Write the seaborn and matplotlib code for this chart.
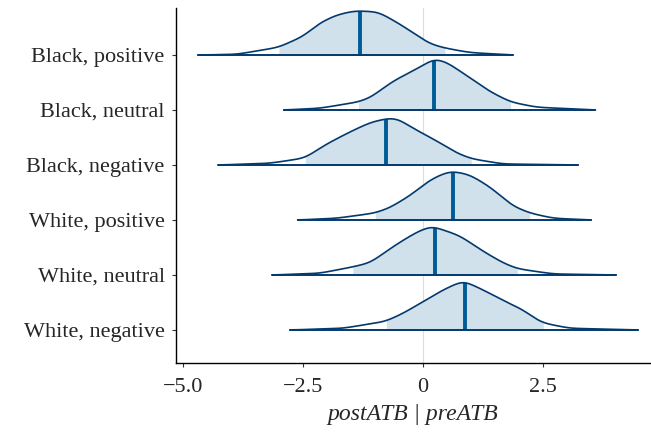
import numpy as np
import matplotlib
matplotlib.use("Agg")
import matplotlib.pyplot as plt
import seaborn as sns

# ------------------------------
# Posterior density outlines
# (x in data units, height in relative density units)
# ------------------------------
labels = ["Black, positive", "Black, neutral", "Black, negative",
          "White, positive", "White, neutral", "White, negative"]

bp_x = [-4.69, -3.88, -3.01, -2.49, -2.15, -1.80, -1.42, -0.93, -0.48, -0.13, 0.15, 0.46, 0.98, 1.88]
bp_h = [0, 2, 22, 54, 92, 115, 127, 124, 89, 57, 32, 20, 7, 0]

bn_x = [-2.90, -2.15, -1.35, -1.10, -0.62, -0.13, 0.24, 0.49, 0.98, 1.40, 1.83, 2.37, 3.60]
bn_h = [0, 5, 23, 35, 83, 118, 148, 138, 93, 53, 23, 8, 0]

bg_x = [-4.26, -3.19, -2.46, -2.01, -1.52, -1.10, -0.77, -0.55, -0.13, 0.28, 0.70, 1.01, 1.67, 3.24]
bg_h = [0, 5, 20, 60, 95, 122, 133, 135, 100, 70, 35, 18, 3, 0]

wp_x = [-2.61, -1.80, -1.00, -0.69, -0.27, 0.15, 0.49, 0.63, 0.98, 1.40, 1.88, 2.23, 2.72, 3.51]
wp_h = [0, 5, 20, 35, 70, 115, 137, 140, 130, 95, 40, 20, 5, 0]

wn_x = [-3.14, -2.15, -1.47, -1.10, -0.55, -0.13, 0.18, 0.35, 0.77, 1.26, 1.67, 1.97, 2.72, 4.03]
wn_h = [0, 5, 23, 35, 88, 123, 141, 133, 113, 68, 35, 18, 3, 0]

wg_x = [-2.77, -1.66, -0.77, -0.41, -0.01, 0.42, 0.84, 1.26, 1.67, 2.09, 2.37, 2.51, 3.06, 4.49]
wg_h = [0, 5, 25, 48, 80, 115, 142, 115, 85, 58, 30, 20, 5, 0]

# interval bounds and medians
lo = [-3.01, -1.35, -2.46, -1.00, -1.47, -0.77]
hi = [0.46, 1.83, 1.01, 2.23, 1.97, 2.51]
med = [-1.31, 0.24, -0.77, 0.63, 0.26, 0.875]

curves_x = [bp_x, bn_x, bg_x, wp_x, wn_x, wg_x]
curves_h = [bp_h, bn_h, bg_h, wp_h, wn_h, wg_h]

# ------------------------------
# Plot
# ------------------------------
sns.set_style("ticks")
plt.rcParams['font.family'] = ['Liberation Serif', 'DejaVu Serif']

fig = plt.figure(figsize=(6.51, 4.34), dpi=100)
ax = fig.add_axes([0.270, 0.1636, 0.728, 0.818])

fill_col = "#d1e1ec"
line_col = "#03396c"
med_col = "#005b96"
scale = 1 / 158.0

ax.axvline(0, color="#dddddd", lw=0.8, zorder=0)

# gaussian kernel (in data units) to round off the hand-read outline
step = 0.01
sig = 0.12
kx = np.arange(-4 * sig, 4 * sig + step, step)
kern = np.exp(-0.5 * (kx / sig) ** 2)
kern /= kern.sum()
pad = len(kx) // 2

n = len(labels)
for i in range(n):
    base = n - 1 - i
    x = np.array(curves_x[i])
    h = np.array(curves_h[i]) * scale
    xs = np.arange(x.min(), x.max() + step / 2, step)
    hs = np.interp(xs, x, h)
    hs = np.convolve(np.pad(hs, pad, mode="edge"), kern, mode="valid")
    mask = (xs >= lo[i]) & (xs <= hi[i])
    ax.fill_between(xs[mask], base, base + hs[mask], color=fill_col, lw=0, zorder=1)
    sns.lineplot(x=xs, y=base + hs, color=line_col, lw=1.2, ax=ax, zorder=3)
    ax.plot([xs.min(), xs.max()], [base, base], color=line_col, lw=1.4, zorder=3)
    mh = np.interp(med[i], xs, hs)
    ax.plot([med[i], med[i]], [base, base + mh], color=med_col, lw=2.8, zorder=2,
            solid_capstyle="butt")

ax.set_xlim(-5.15, 4.73)
ax.set_ylim(-0.6, 5.855)
ax.set_yticks(range(n))
ax.set_yticklabels(labels[::-1], fontsize=16)
ax.set_xticks([-5, -2.5, 0, 2.5])
ax.set_xticklabels(["\u22125.0", "\u22122.5", "0", "2.5"], fontsize=16)
ax.tick_params(axis="x", length=3, width=0.8, color="#333333", pad=8)
ax.tick_params(axis="y", length=3, width=0.8, color="#333333", pad=5)
ax.set_xlabel("postATB | preATB", fontsize=17, style="italic", labelpad=5)
sns.despine(ax=ax, top=True, right=True)
for s in ["left", "bottom"]:
    ax.spines[s].set_color("black")
    ax.spines[s].set_linewidth(1.0)

fig.savefig("out.png", dpi=100)
